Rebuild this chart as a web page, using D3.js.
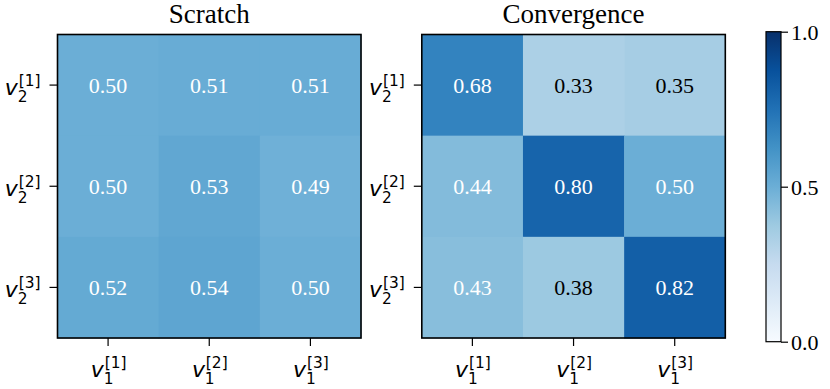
<!DOCTYPE html>
<html>
<head>
<meta charset="utf-8">
<script src="https://cdn.jsdelivr.net/npm/d3@7"></script>
<style>
  body { margin: 0; background: #fff; }
  svg { display: block; }
</style>
</head>
<body>
<svg id="chart" width="830" height="389"></svg>
<script>
// values
let titles = ["Scratch", "Convergence"];
let scratch = [
    [0.50, 0.51, 0.51],
    [0.50, 0.53, 0.49],
    [0.52, 0.54, 0.50]
];
let convergence = [
    [0.68, 0.33, 0.35],
    [0.44, 0.80, 0.50],
    [0.43, 0.38, 0.82]
];
let colLabels = ["[1]", "[2]", "[3]"];   // v_1^[k]
let rowLabels = ["[1]", "[2]", "[3]"];   // v_2^[k]
let cbarTicks = [0.0, 0.5, 1.0];

// matplotlib "Blues" is a straight piecewise-linear ramp over the 9 brewer colours
let bluesStops = ["#f7fbff", "#deebf7", "#c6dbef", "#9ecae1", "#6baed6",
                  "#4292c6", "#2171b5", "#08519c", "#08306b"];
let color = d3.scaleLinear()
              .domain(d3.range(9).map(i => i / 8))
              .range(bluesStops)
              .interpolate(d3.interpolateRgb)
              .clamp(true);

const SERIF = "'Liberation Serif', 'Times New Roman', serif";
const MATH = "'DejaVu Sans', sans-serif";

let svg = d3.select("#chart");
let size = 303.5,
    topY = 34.5,
    panels = [{x: 57.5, data: scratch}, {x: 421.8, data: convergence}];
let fs = 22; // tick label / annotation size

// v with a stacked subscript and superscript, as mathtext lays it out
function mathLabel(g, sub, sup, anchor) {
    let t = g.append("g").attr("font-family", MATH);
    let vw = 0.59 * fs;
    let small = fs * 0.7;
    let supW = 0.99 * fs;
    let w = vw + supW;
    let x0 = anchor === "end" ? -w : -w / 2;
    t.append("text")
     .attr("x", x0).attr("y", 0)
     .attr("font-size", fs).attr("font-style", "italic")
     .text("v");
    t.append("text")
     .attr("x", x0 + vw + 1).attr("y", -9.5)
     .attr("font-size", small)
     .text(sup);
    t.append("text")
     .attr("x", x0 + vw).attr("y", 6.5)
     .attr("font-size", small)
     .text(sub);
    return t;
}

panels.forEach((p, pi) => {
    let x = d3.scaleBand().domain(d3.range(3)).range([p.x, p.x + size]);
    let y = d3.scaleBand().domain(d3.range(3)).range([topY, topY + size]);
    let g = svg.append("g");

    let cells = [];
    p.data.forEach((row, r) => row.forEach((v, c) => cells.push({r, c, v})));

    g.selectAll("rect.cell")
     .data(cells)
     .enter().append("rect")
     .attr("class", "cell")
     .attr("x", d => x(d.c))
     .attr("y", d => y(d.r))
     .attr("width", x.bandwidth() + 0.5)
     .attr("height", y.bandwidth() + 0.5)
     .attr("fill", d => color(d.v));

    g.selectAll("text.val")
     .data(cells)
     .enter().append("text")
     .attr("class", "val")
     .attr("x", d => x(d.c) + x.bandwidth() / 2)
     .attr("y", d => y(d.r) + y.bandwidth() / 2 + 7.5)
     .attr("text-anchor", "middle")
     .attr("font-family", SERIF)
     .attr("font-size", fs)
     .attr("fill", d => d.v > 0.4 ? "#fff" : "#000")
     .text(d => d.v.toFixed(2));

    g.append("rect")
     .attr("x", p.x).attr("y", topY)
     .attr("width", size).attr("height", size)
     .attr("fill", "none").attr("stroke", "#000").attr("stroke-width", 1.6);

    g.append("text")
     .attr("x", p.x + size / 2).attr("y", 23)
     .attr("text-anchor", "middle")
     .attr("font-family", SERIF)
     .attr("font-size", 27)
     .text(titles[pi]);

    // y ticks
    rowLabels.forEach((lab, i) => {
        let ty = y(i) + y.bandwidth() / 2;
        g.append("line")
         .attr("x1", p.x - 8).attr("x2", p.x)
         .attr("y1", ty).attr("y2", ty)
         .attr("stroke", "#000").attr("stroke-width", 1.2);
        mathLabel(g, "2", lab, "end")
         .attr("transform", `translate(${p.x - 18},${ty + 10})`);
    });
    // x ticks
    colLabels.forEach((lab, i) => {
        let tx = x(i) + x.bandwidth() / 2;
        g.append("line")
         .attr("x1", tx).attr("x2", tx)
         .attr("y1", topY + size).attr("y2", topY + size + 8)
         .attr("stroke", "#000").attr("stroke-width", 1.2);
        mathLabel(g, "1", lab, "middle")
         .attr("transform", `translate(${tx},377)`);
    });
});

// colorbar
let cb = {x: 766, y: 31.7, w: 15, h: 310};
let cy = d3.scaleLinear().domain([0, 1]).range([cb.y + cb.h, cb.y]);
let grad = svg.append("defs").append("linearGradient")
              .attr("id", "blues").attr("x1", 0).attr("y1", 1).attr("x2", 0).attr("y2", 0);
grad.selectAll("stop")
    .data(color.domain())
    .enter().append("stop")
    .attr("offset", d => d)
    .attr("stop-color", d => color(d));
svg.append("rect")
   .attr("x", cb.x).attr("y", cb.y).attr("width", cb.w).attr("height", cb.h)
   .attr("fill", "url(#blues)")
   .attr("stroke", "#000").attr("stroke-width", 1.2);

let cbAxis = svg.append("g")
    .attr("transform", `translate(${cb.x + cb.w},0)`)
    .call(d3.axisRight(cy).tickValues(cbarTicks).tickFormat(d3.format(".1f")).tickSize(7).tickPadding(3))
    .attr("font-family", SERIF)
    .attr("font-size", fs);
cbAxis.select(".domain").remove();
cbAxis.selectAll("line").attr("stroke-width", 1.2);
cbAxis.selectAll("text").attr("dy", "0.34em");
</script>
</body>
</html>
